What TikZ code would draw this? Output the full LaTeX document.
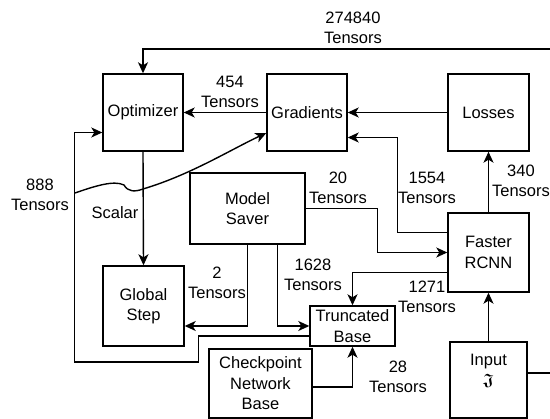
\documentclass[tikz,border=0pt]{standalone}
\usepackage{amsmath}
\usepackage{amssymb}
\usepackage{fontspec}
\setmainfont{Liberation Sans}
\usetikzlibrary{arrows.meta, calc}
\tikzset{
  % --- blocks of the graph ---
  block/.style={draw, line width=1.4pt, align=center, inner sep=1pt,
    font=\fontsize{16.5}{20.5}\selectfont},
  % --- connectors ---
  flow/.style={-{Stealth[length=11pt, width=10pt, inset=3pt]}, line width=1.4pt},
  wire/.style={line width=1.4pt},
  tlabel/.style={align=center, inner sep=0pt, font=\fontsize{16.5}{20.5}\selectfont},
}

\begin{document}
\begin{tikzpicture}[x=1pt, y=-1pt]
    \useasboundingbox (0,0) rectangle (550,419);
    % blocks
    \node[block, minimum width=80pt, minimum height=77pt] (opt)    at (143,112.5)  {Optimizer};
    \node[block, minimum width=80pt, minimum height=77pt] (grad)   at (307,112.5)  {Gradients};
    \node[block, minimum width=81pt, minimum height=77pt] (loss)   at (488.5,112.5){Losses};
    \node[block, minimum width=115pt, minimum height=71pt] (saver) at (247.5,208.5){Model\\Saver};
    \node[block, minimum width=81pt, minimum height=79pt] (frcnn)  at (488.5,252.5){Faster\\RCNN};
    \node[block, minimum width=81pt, minimum height=80pt] (gstep)  at (143.5,306)   {Global\\Step};
    \node[block, minimum width=85pt, minimum height=40pt] (trunc)  at (352.5,326)   {Truncated\\Base};
    \node[block, minimum width=103pt, minimum height=69pt] (ckpt)  at (260.5,383.5){Checkpoint\\Network\\Base};
    \node[block, minimum width=77pt, minimum height=76pt] (input)  at (488.5,380)   {Input\\$\boldsymbol{\mathfrak{J}}$\\ };
    % free ends at the right border
    \coordinate (topin) at (550,49);
    \coordinate (inout) at (550,373);
    \coordinate (wavestart) at (75,193);
    % connectors
    \draw[flow] (topin) -| (opt.north);
    \draw[flow] (grad.west) -- (opt.east);
    \draw[flow] (loss.west) -- (grad.east);
    \draw[flow] ([yshift=20pt]frcnn.west) -- ++(-50,0) |- ([yshift=-25pt]grad.east);
    \draw[flow] (frcnn.north) -- (loss.south);
    \draw[flow] (input.north) -- (frcnn.south);
    \draw[wire] ([yshift=7pt]input.east) -- (inout);
    \draw[flow] (saver.east) -- ++(72,0) |- (frcnn.west);
    \draw[flow] ([yshift=-20pt]frcnn.west) -| (trunc.north);
    \draw[flow] ([xshift=30pt]saver.south) |- (trunc.west);
    \draw[flow] (saver.south) |- ([yshift=-20pt]gstep.east);
    \draw[flow] ([yshift=-10pt]trunc.west) -- ++(-111,0) -- ++(0,26) -- ++(-124,0) |- ([yshift=-20pt]opt.west);
    \draw[flow] (wavestart) .. controls (95,186) and (114,180) .. (124,185)
      .. controls (128,192) and (135,192) .. (143,189)
      .. controls (190,175) and (230,150) .. ([yshift=-20.5pt]grad.west);
    \draw[flow] (opt.south) -- (gstep.north);
    \draw[flow] ([yshift=-3.5pt]ckpt.east) -| (trunc.south);
    % edge labels
    \node[tlabel] (l274840) at (353,28)  {274840\\Tensors};
    \node[tlabel] (l454)    at (230,92)  {454\\Tensors};
    \node[tlabel] (l888)    at (40,195)  {888\\Tensors};
    \node[tlabel] (lscalar) at (115,213) {Scalar};
    \node[tlabel] (l20)     at (338,188) {20\\Tensors};
    \node[tlabel] (l1554)   at (427,188) {1554\\Tensors};
    \node[tlabel] (l340)    at (521,181) {340\\Tensors};
    \node[tlabel] (l2)      at (217,283) {2\\Tensors};
    \node[tlabel] (l1628)   at (313,275) {1628\\Tensors};
    \node[tlabel] (l1271)   at (427,297) {1271\\Tensors};
    \node[tlabel] (l28)     at (398,377) {28\\Tensors};
\end{tikzpicture}
\end{document}
